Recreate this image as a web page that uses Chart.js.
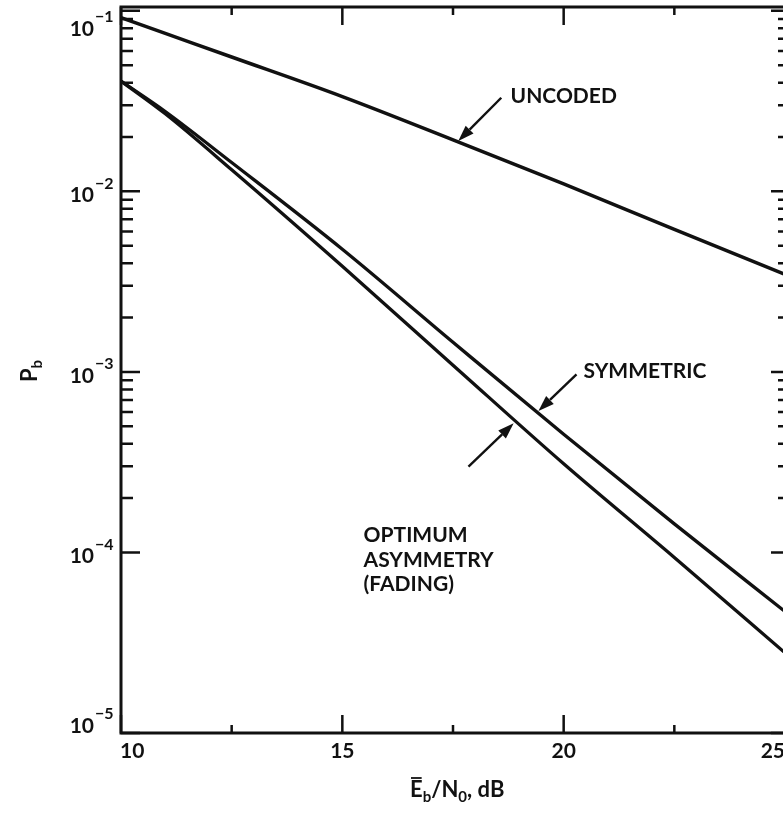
<!DOCTYPE html>
<html>
<head>
<meta charset="utf-8">
<script src="https://cdn.jsdelivr.net/npm/chart.js@4.4.1/dist/chart.umd.min.js"></script>
<style>
    html, body { margin: 0; padding: 0; background: #fff; overflow: hidden; width: 783px; height: 813px; }
    #wrap { width: 800px; height: 813px; }
</style>
</head>
<body>
<div id="wrap"><canvas id="pbChart" width="800" height="813"></canvas></div>
<script>
// === DATA ===
const ebn0 = [10, 11, 12.5, 15, 17.5, 20, 22.5, 25];
const uncoded = [0.0917, 0.0750, 0.0555, 0.0335, 0.0193, 0.0110, 0.00615, 0.00347];
const symmetric = [0.0408, 0.0277, 0.01445, 0.00478, 0.00146, 0.000451, 0.000144, 0.0000471];
const optimum = [0.0408, 0.0269, 0.01318, 0.00385, 0.00109, 0.000310, 0.0000938, 0.0000278];

const xMajorTicks = [10, 15, 20, 25];
const xMinorTicks = [12.5, 17.5, 22.5];
const xTickLabels = ['10', '15', '20', '25'];
const yExponents = [-1, -2, -3, -4, -5];
const yMinorMantissas = [2, 3, 4, 5, 6, 7, 8, 9];

const INK = '#111';
const FONT = 'Lato, "DejaVu Sans", sans-serif';

// annotation text + arrow, in data coordinates
const notes = [
    { lines: ['UNCODED'], at: [18.8, 0.0336], tail: [18.59, 0.0330], tip: [17.62, 0.0190] },
    { lines: ['SYMMETRIC'], at: [20.45, 0.00101], tail: [20.29, 0.00097], tip: [19.43, 0.000607] },
    { lines: ['OPTIMUM', 'ASYMMETRY', '(FADING)'], at: [15.48, 0.000124], tail: [17.85, 0.000299], tip: [18.87, 0.000519] },
];

function toPoints(ys) {
    return ebn0.map((x, i) => ({ x: x, y: ys[i] }));
}

function arrow(ctx, x0, y0, x1, y1) {
    const ang = Math.atan2(y1 - y0, x1 - x0);
    const len = 16, half = 5.5;
    const bx = x1 - len * Math.cos(ang), by = y1 - len * Math.sin(ang);
    ctx.beginPath();
    ctx.moveTo(x0, y0);
    ctx.lineTo(bx, by);
    ctx.lineWidth = 2.4;
    ctx.stroke();
    ctx.beginPath();
    ctx.moveTo(x1, y1);
    ctx.lineTo(bx + half * Math.sin(ang), by - half * Math.cos(ang));
    ctx.lineTo(bx - half * Math.sin(ang), by + half * Math.cos(ang));
    ctx.closePath();
    ctx.fill();
}

// frame, inward ticks, labels and notes
const paperPlugin = {
    id: 'paper',
    afterDatasetsDraw(chart) {
        const ctx = chart.ctx;
        const area = chart.chartArea;
        const xs = chart.scales.x, ys = chart.scales.y;
        ctx.save();
        ctx.strokeStyle = INK;
        ctx.fillStyle = INK;
        ctx.lineCap = 'butt';

        // frame
        ctx.lineWidth = 3;
        ctx.strokeRect(area.left, area.top, area.right - area.left, area.bottom - area.top);

        // y ticks: long on the left, short on the right
        ctx.lineWidth = 2.5;
        const yTick = (v, lenL, lenR) => {
            const py = ys.getPixelForValue(v);
            if (py < area.top + 2) return;
            ctx.beginPath();
            ctx.moveTo(area.left, py); ctx.lineTo(area.left + lenL, py);
            ctx.moveTo(area.right, py); ctx.lineTo(area.right - lenR, py);
            ctx.stroke();
        };
        yExponents.forEach(e => {
            yTick(Math.pow(10, e), 19, 14);
            if (e > -5) {
                yMinorMantissas.forEach(m => {
                    const v = m * Math.pow(10, e);
                    if (v <= ys.max) yTick(v, 12, 7);
                });
            }
        });

        // x ticks on bottom and top
        const xTick = (v, len) => {
            const px = xs.getPixelForValue(v);
            ctx.beginPath();
            ctx.moveTo(px, area.bottom); ctx.lineTo(px, area.bottom - len);
            ctx.moveTo(px, area.top); ctx.lineTo(px, area.top + len);
            ctx.stroke();
        };
        xMajorTicks.forEach(v => xTick(v, 18));
        xMinorTicks.forEach(v => xTick(v, 8));

        // x tick labels
        ctx.font = 'bold 21px ' + FONT;
        ctx.textBaseline = 'middle';
        xMajorTicks.forEach((v, i) => {
            const px = xs.getPixelForValue(v);
            ctx.textAlign = i === 0 ? 'left' : (i === xMajorTicks.length - 1 ? 'right' : 'center');
            ctx.fillText(xTickLabels[i], px - (i === 0 ? 1 : 0), area.bottom + 18);
        });

        // y tick labels 10^e
        yExponents.forEach((e, i) => {
            let py = ys.getPixelForValue(Math.pow(10, e));
            if (i === 0) py += 14;
            if (i === yExponents.length - 1) py -= 11;
            ctx.font = 'bold 21px ' + FONT;
            ctx.textAlign = 'right';
            ctx.fillText('10', 94, py + 4);
            ctx.font = 'bold 16px ' + FONT;
            ctx.textAlign = 'left';
            ctx.fillText('\u2212' + (-e), 95, py - 8);
        });

        // axis titles
        ctx.save();
        ctx.translate(30, 372);
        ctx.rotate(-Math.PI / 2);
        ctx.textAlign = 'left';
        ctx.font = 'bold 22px ' + FONT;
        ctx.fillText('P', -10, 0);
        const pw = ctx.measureText('P').width;
        ctx.font = 'bold 15px ' + FONT;
        ctx.fillText('b', -10 + pw, 7);
        ctx.restore();

        const parts = [
            { t: 'E', size: 22, dy: 0, bar: true },
            { t: 'b', size: 15, dy: 7 },
            { t: '/N', size: 22, dy: 0 },
            { t: '0', size: 15, dy: 7 },
            { t: ', dB', size: 22, dy: 0 },
        ];
        let cx = 410;
        const base = 790;
        ctx.textAlign = 'left';
        parts.forEach(p => {
            ctx.font = 'bold ' + p.size + 'px ' + FONT;
            ctx.fillText(p.t, cx, base + p.dy);
            const w = ctx.measureText(p.t).width;
            if (p.bar) {
                ctx.lineWidth = 1.8;
                ctx.beginPath();
                ctx.moveTo(cx + 1, base - 12); ctx.lineTo(cx + w - 1, base - 12);
                ctx.stroke();
            }
            cx += w;
        });

        // notes
        ctx.font = 'bold 21px ' + FONT;
        ctx.textAlign = 'left';
        notes.forEach(n => {
            const tx = xs.getPixelForValue(n.at[0]);
            const ty = ys.getPixelForValue(n.at[1]);
            n.lines.forEach((line, k) => ctx.fillText(line, tx, ty + k * 24.5));
            arrow(ctx,
                xs.getPixelForValue(n.tail[0]), ys.getPixelForValue(n.tail[1]),
                xs.getPixelForValue(n.tip[0]), ys.getPixelForValue(n.tip[1]));
        });

        ctx.restore();
    }
};

function lineSet(label, ys, width) {
    return {
        label: label,
        data: toPoints(ys),
        borderColor: INK,
        borderWidth: width,
        pointRadius: 0,
        fill: false,
        cubicInterpolationMode: 'monotone',
    };
}

new Chart(document.getElementById('pbChart').getContext('2d'), {
    type: 'line',
    data: {
        datasets: [
            lineSet('Uncoded', uncoded, 3.5),
            lineSet('Symmetric', symmetric, 3.3),
            lineSet('Optimum asymmetry (fading)', optimum, 3.3),
        ]
    },
    options: {
        responsive: false,
        animation: false,
        devicePixelRatio: 1,
        layout: { padding: { left: 121, top: 7, right: 15, bottom: 80 } },
        plugins: { legend: { display: false }, tooltip: { enabled: false } },
        scales: {
            x: { type: 'linear', min: 10, max: 25, display: false },
            y: { type: 'logarithmic', min: 1e-5, max: 0.105, display: false },
        }
    },
    plugins: [paperPlugin]
});
</script>
</body>
</html>
